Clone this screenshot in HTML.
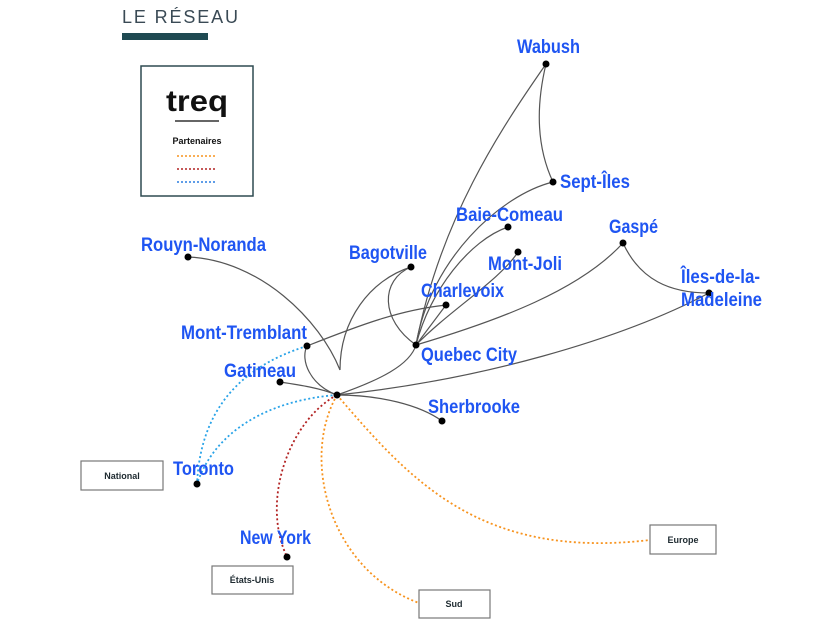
<!DOCTYPE html>
<html><head><meta charset="utf-8"><style>
html,body{margin:0;padding:0;background:#fff;width:840px;height:630px;overflow:hidden}
svg{display:block}
.l{font-family:"Liberation Sans",sans-serif;font-weight:bold;font-size:19px;fill:#1f55f2}
.b{font-family:"Liberation Sans",sans-serif;font-weight:bold;font-size:9px;fill:#1e2a30}
</style></head><body>
<svg width="840" height="630" viewBox="0 0 840 630">
<text x="122" y="23" font-family="Liberation Sans,sans-serif" font-size="18" fill="#3a4a55" textLength="116" lengthAdjust="spacing">LE RÉSEAU</text>
<rect x="122" y="33" width="86" height="7" fill="#1f4a52"/>
<rect x="141" y="66" width="112" height="130" fill="#fff" stroke="#2e4a50" stroke-width="1.5"/>
<text x="166" y="111" font-family="Liberation Sans,sans-serif" font-weight="bold" font-size="30" fill="#111" textLength="62" lengthAdjust="spacingAndGlyphs">treq</text>
<line x1="175" y1="121" x2="219" y2="121" stroke="#333" stroke-width="1.5"/>
<text x="197" y="144" text-anchor="middle" class="b" font-size="8.5" style="fill:#111">Partenaires</text>
<g stroke-width="1.6" stroke-dasharray="2,2">
<line x1="177" y1="156" x2="217" y2="156" stroke="#f7931e"/>
<line x1="177" y1="169" x2="217" y2="169" stroke="#b22222"/>
<line x1="177" y1="182" x2="217" y2="182" stroke="#2a7de1"/>
</g>
<g fill="none" stroke="#555" stroke-width="1.2">
<path d="M416,345 C440,220 500,130 546,64"/>
<path d="M546,64 C535,110 538,150 553,182"/>
<path d="M416,345 C430,260 500,195 553,182"/>
<path d="M416,345 C430,290 470,240 508,227"/>
<path d="M416,345 C450,310 500,280 518,252"/>
<path d="M416,345 C500,320 580,290 623,243"/>
<path d="M623,243 C640,280 670,293 709,293"/>
<path d="M337,395 C480,380 620,340 709,293"/>
<path d="M416,345 C380,320 380,280 411,267"/>
<path d="M416,345 L446,305"/>
<path d="M337,395 C380,380 410,365 416,345"/>
<path d="M340,370 C340,320 370,280 411,267"/>
<path d="M188,257 C260,260 320,320 340,370"/>
<path d="M307,346 C360,325 400,310 446,305"/>
<path d="M307,346 C300,360 310,385 337,395"/>
<path d="M280,382 C300,385 320,388 337,395"/>
<path d="M337,395 C380,395 420,405 442,421"/>
</g>
<g fill="none" stroke-width="1.8" stroke-dasharray="2,2.5">
<path d="M307,346 C230,370 200,420 197,484" stroke="#29a3e8"/>
<path d="M337,395 C270,400 215,430 197,484" stroke="#29a3e8"/>
<path d="M337,395 C290,420 260,500 287,557" stroke="#b22222"/>
<path d="M337,395 C300,460 330,570 419,603" stroke="#f7931e"/>
<path d="M337,395 C410,480 480,560 650,540" stroke="#f7931e"/>
</g>
<g fill="#000">
<circle cx="546" cy="64" r="3.5"/><circle cx="553" cy="182" r="3.5"/><circle cx="508" cy="227" r="3.5"/>
<circle cx="518" cy="252" r="3.5"/><circle cx="623" cy="243" r="3.5"/><circle cx="709" cy="293" r="3.5"/>
<circle cx="411" cy="267" r="3.5"/><circle cx="446" cy="305" r="3.5"/><circle cx="416" cy="345" r="3.5"/>
<circle cx="188" cy="257" r="3.5"/><circle cx="307" cy="346" r="3.5"/><circle cx="280" cy="382" r="3.5"/>
<circle cx="337" cy="395" r="3.5"/><circle cx="442" cy="421" r="3.5"/><circle cx="197" cy="484" r="3.5"/>
<circle cx="287" cy="557" r="3.5"/>
</g>
<text class="l" x="517" y="53" textLength="63" lengthAdjust="spacingAndGlyphs">Wabush</text>
<text class="l" x="560" y="188" textLength="70" lengthAdjust="spacingAndGlyphs">Sept-Îles</text>
<text class="l" x="456" y="221" textLength="107" lengthAdjust="spacingAndGlyphs">Baie-Comeau</text>
<text class="l" x="488" y="270" textLength="74" lengthAdjust="spacingAndGlyphs">Mont-Joli</text>
<text class="l" x="609" y="233" textLength="49" lengthAdjust="spacingAndGlyphs">Gaspé</text>
<text class="l" x="681" y="283" textLength="79" lengthAdjust="spacingAndGlyphs">Îles-de-la-</text>
<text class="l" x="681" y="306" textLength="81" lengthAdjust="spacingAndGlyphs">Madeleine</text>
<text class="l" x="349" y="259" textLength="78" lengthAdjust="spacingAndGlyphs">Bagotville</text>
<text class="l" x="421" y="297" textLength="83" lengthAdjust="spacingAndGlyphs">Charlevoix</text>
<text class="l" x="421" y="361" textLength="96" lengthAdjust="spacingAndGlyphs">Quebec City</text>
<text class="l" x="141" y="251" textLength="125" lengthAdjust="spacingAndGlyphs">Rouyn-Noranda</text>
<text class="l" x="181" y="339" textLength="126" lengthAdjust="spacingAndGlyphs">Mont-Tremblant</text>
<text class="l" x="224" y="377" textLength="72" lengthAdjust="spacingAndGlyphs">Gatineau</text>
<text class="l" x="428" y="413" textLength="92" lengthAdjust="spacingAndGlyphs">Sherbrooke</text>
<text class="l" x="173" y="475" textLength="61" lengthAdjust="spacingAndGlyphs">Toronto</text>
<text class="l" x="240" y="544" textLength="71" lengthAdjust="spacingAndGlyphs">New York</text>
<g fill="#fff" stroke="#777" stroke-width="1.2">
<rect x="81" y="461" width="82" height="29"/>
<rect x="212" y="566" width="81" height="28"/>
<rect x="419" y="590" width="71" height="28"/>
<rect x="650" y="525" width="66" height="29"/>
</g>
<text class="b" x="122" y="479" text-anchor="middle">National</text>
<text class="b" x="252" y="583" text-anchor="middle">États-Unis</text>
<text class="b" x="454" y="607" text-anchor="middle">Sud</text>
<text class="b" x="683" y="543" text-anchor="middle">Europe</text>
</svg>
</body></html>
